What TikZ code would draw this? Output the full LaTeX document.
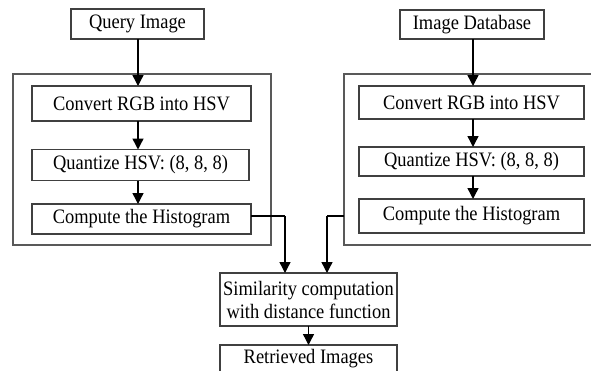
\documentclass[tikz,border=0pt]{standalone}
\usepackage{fontspec}
\setmainfont{Liberation Serif}[FakeStretch=0.9]
\usetikzlibrary{arrows.meta}
\begin{document}
\begin{tikzpicture}[x=1pt,y=-1pt,
  every node/.style={inner sep=0pt, outer sep=0pt},
  box/.style={draw=black!75, line width=1.1pt, rectangle, font=\fontsize{20.5}{23}\selectfont},
  frame/.style={draw=black!65, line width=1.1pt, rectangle},
  flow/.style={draw=black, line width=1.4pt, -{Triangle[length=11pt,width=11pt]}},
  link/.style={draw=black, line width=1.4pt}]
\useasboundingbox (0,0) rectangle (591,370);
\clip (0,0) rectangle (591,370);
\fill[white] (0,0) rectangle (591,370);

% inputs
\node[box, minimum width=133pt, minimum height=30pt] (q) at (137.5,24) {Query Image};
\node[box, minimum width=144pt, minimum height=29pt] (db) at (472,24.5) {Image Database};

% feature extraction frames
\node[frame, minimum width=258pt, minimum height=171pt] (cl) at (142,159.5) {};
\node[frame, minimum width=258pt, minimum height=171pt] (cr) at (473,159.5) {};

% left pipeline
\node[box, minimum width=219pt, minimum height=35pt] (c1L) at (141.5,103.5) {Convert RGB into HSV};
\node[box, minimum width=217pt, minimum height=31pt] (q1L) at (140.5,165) {Quantize HSV: (8, 8, 8)};
\node[box, minimum width=219pt, minimum height=30pt] (h1L) at (141.5,219) {Compute the Histogram};

% right pipeline
\node[box, minimum width=225pt, minimum height=33pt] (c1R) at (471.5,102.5) {Convert RGB into HSV};
\node[box, minimum width=225pt, minimum height=29pt] (q1R) at (471.5,161.5) {Quantize HSV: (8, 8, 8)};
\node[box, minimum width=225pt, minimum height=34pt] (h1R) at (471.5,216) {Compute the Histogram};

% matching and output
\node[box, minimum width=177pt, minimum height=53pt, align=center] (sim) at (308.5,299.5) {Similarity computation\\with distance function};
\node[box, minimum width=177pt, minimum height=40pt] (ret) at (308.5,365) {};
\node[font=\fontsize{20.5}{23}\selectfont] (rett) at (308.5,359) {Retrieved Images};

% vertical flow
\coordinate (xl) at (138,0);
\coordinate (xr) at (473,0);
\draw[flow] (q.south -| xl) -- (c1L.north -| xl);
\draw[flow] (c1L.south -| xl) -- (q1L.north -| xl);
\draw[flow] (q1L.south -| xl) -- (h1L.north -| xl);
\draw[flow] (db.south -| xr) -- (c1R.north -| xr);
\draw[flow] (c1R.south -| xr) -- (q1R.north -| xr);
\draw[flow] (q1R.south -| xr) -- (h1R.north -| xr);

% histograms into the similarity step
\coordinate (jl) at (285,216);
\coordinate (jr) at (327,216);
\draw[link] (h1L.east |- jl) -- (jl);
\draw[flow] (jl) -- (jl |- sim.north);
\draw[link] (cr.west |- jr) -- (jr);
\draw[flow] (jr) -- (jr |- sim.north);
\draw[flow] (sim.south) -- (ret.north);
\end{tikzpicture}
\end{document}
